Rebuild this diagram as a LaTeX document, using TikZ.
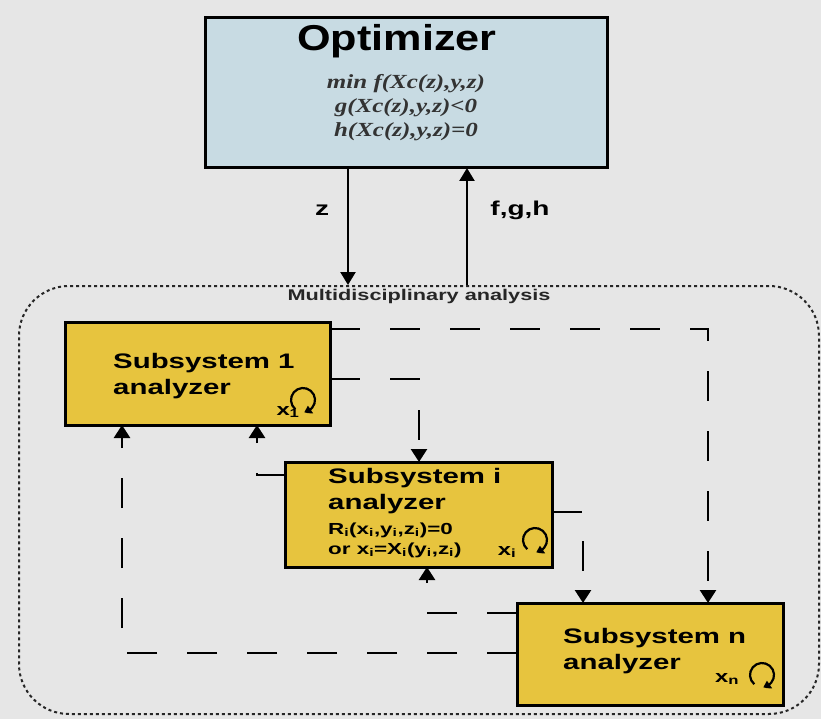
\documentclass[tikz,border=0pt]{standalone}
\usepackage{fontspec}
\setmainfont{Liberation Sans}
\newfontfamily\sansS[FakeStretch=1.4]{Liberation Sans}
\newfontfamily\sansO[FakeStretch=1.2]{Liberation Sans}
\newfontfamily\serifM[FakeStretch=1.25]{Liberation Serif}
\usetikzlibrary{arrows.meta,calc,bending}
\definecolor{bgc}{RGB}{230,230,230}
\definecolor{optfill}{RGB}{200,219,227}
\definecolor{subfill}{RGB}{231,196,62}
\tikzset{
  boxstyle/.style={draw=black, line width=3pt, inner sep=0pt, outer sep=0pt},
  subbox/.style={boxstyle, fill=subfill},
  subtext/.style={font={\sansS\bfseries\fontsize{21}{26}\selectfont}, align=left, anchor=west, inner sep=0pt},
  smalltext/.style={font={\sansS\bfseries\fontsize{16}{20}\selectfont}, align=left, anchor=west, inner sep=0pt},
  dline/.style={line width=2.6pt, dash pattern=on 30pt off 30pt, -{Triangle[length=13pt,width=16pt]}},
  sline/.style={line width=2.4pt, -{Triangle[length=13pt,width=15pt]}},
  loopline/.style={line width=2.2pt, -{Triangle[length=7pt,width=9pt,bend]}},
  looplab/.style={font={\sansS\bfseries\fontsize{17}{20}\selectfont}, inner sep=0pt}
}
\begin{document}
\begin{tikzpicture}[x=1pt,y=1pt]
\fill[bgc] (0,0) rectangle (821,-719);
\useasboundingbox (0,0) rectangle (821,-719);

% frame
\node[draw=black!85, line width=2pt, dash pattern=on 3pt off 3pt, rounded corners=50pt,
      minimum width=800pt, minimum height=428pt, inner sep=0pt] (mda) at (419,-500) {};
\node[font={\sansS\bfseries\fontsize{15.5}{18}\selectfont}, inner sep=0pt, anchor=north, text=black!85] (mdalab) at (419,-289) {Multidisciplinary analysis};

% optimizer
\node[boxstyle, fill=optfill, minimum width=402pt, minimum height=150pt] (opt) at (406,-93) {};
\node[font={\sansO\bfseries\fontsize{36}{40}\selectfont}, inner sep=0pt] (opttitle) at (397,-41) {Optimizer};
\node[font={\serifM\bfseries\itshape\fontsize{20}{24}\selectfont}, align=center, inner sep=0pt, text=black!80] (optform) at (406,-108)
  {min f(Xc(z),y,z)\\ g(Xc(z),y,z)<0\\ h(Xc(z),y,z)=0};

% subsystems
\node[subbox, minimum width=265pt, minimum height=103pt] (s1) at (197.5,-373.5) {};
\node[subbox, minimum width=267pt, minimum height=105pt] (si) at (418.5,-514.5) {};
\node[subbox, minimum width=266pt, minimum height=102pt] (sn) at (650,-654) {};

\node[subtext] (s1t) at (113,-376) {Subsystem 1\\analyzer};
\node[subtext] (sit) at (328,-491.5) {Subsystem i\\analyzer};
\node[smalltext] (sie) at (328,-540) {R\textsubscript{i}(x\textsubscript{i},y\textsubscript{i},z\textsubscript{i})=0\\or x\textsubscript{i}=X\textsubscript{i}(y\textsubscript{i},z\textsubscript{i})};
\node[subtext] (snt) at (563,-651.5) {Subsystem n\\analyzer};

% loops
\draw[loopline] ($(s1.south east)+(-27,25)+(230:12)$) arc[start angle=230, end angle=-85, radius=12pt];
\node[looplab] (x1lab) at ($(s1.south east)+(-42,13)$) {x\textsubscript{1}};
\draw[loopline] ($(si.south east)+(-17,27)+(230:12)$) arc[start angle=230, end angle=-85, radius=12pt];
\node[looplab] (xilab) at ($(si.south east)+(-45,15)$) {x\textsubscript{i}};
\draw[loopline] ($(sn.south east)+(-21,30)+(230:12)$) arc[start angle=230, end angle=-85, radius=12pt];
\node[looplab] (xnlab) at ($(sn.south east)+(-56,26)$) {x\textsubscript{n}};

% optimizer links
\coordinate (zt) at ($(opt.south west)+(143,0)$);
\coordinate (zb) at (zt |- mda.north);
\coordinate (ft) at ($(opt.south west)+(262,0)$);
\coordinate (fb) at (ft |- mda.north);
\draw[sline] (zt) -- (zb);
\draw[sline] (fb) -- (ft);
\node[font={\sansS\bfseries\fontsize{20}{24}\selectfont}, inner sep=0pt] (zlab) at (322,-210) {z};
\node[font={\sansS\bfseries\fontsize{20}{24}\selectfont}, inner sep=0pt] (fghlab) at (520,-210) {f,g,h};

% dashed couplings
\draw[dline] ([yshift=-7pt]s1.north east) -| ([xshift=191pt]sn.north west);
\draw[dline] ([yshift=-57pt]s1.north east) -| ([xshift=134pt]si.north west);
\draw[dline] ([yshift=-50pt]si.north east) -| ([xshift=66pt]sn.north west);
\draw[dline] ([yshift=-50pt]sn.north west) -| ([xshift=57pt]s1.south west);
\draw[dline] ([yshift=-13pt]si.north west) -| ([xshift=192pt]s1.south west);
\draw[dline] ([yshift=-10pt]sn.north west) -| ([xshift=142pt]si.south west);
\end{tikzpicture}
\end{document}
